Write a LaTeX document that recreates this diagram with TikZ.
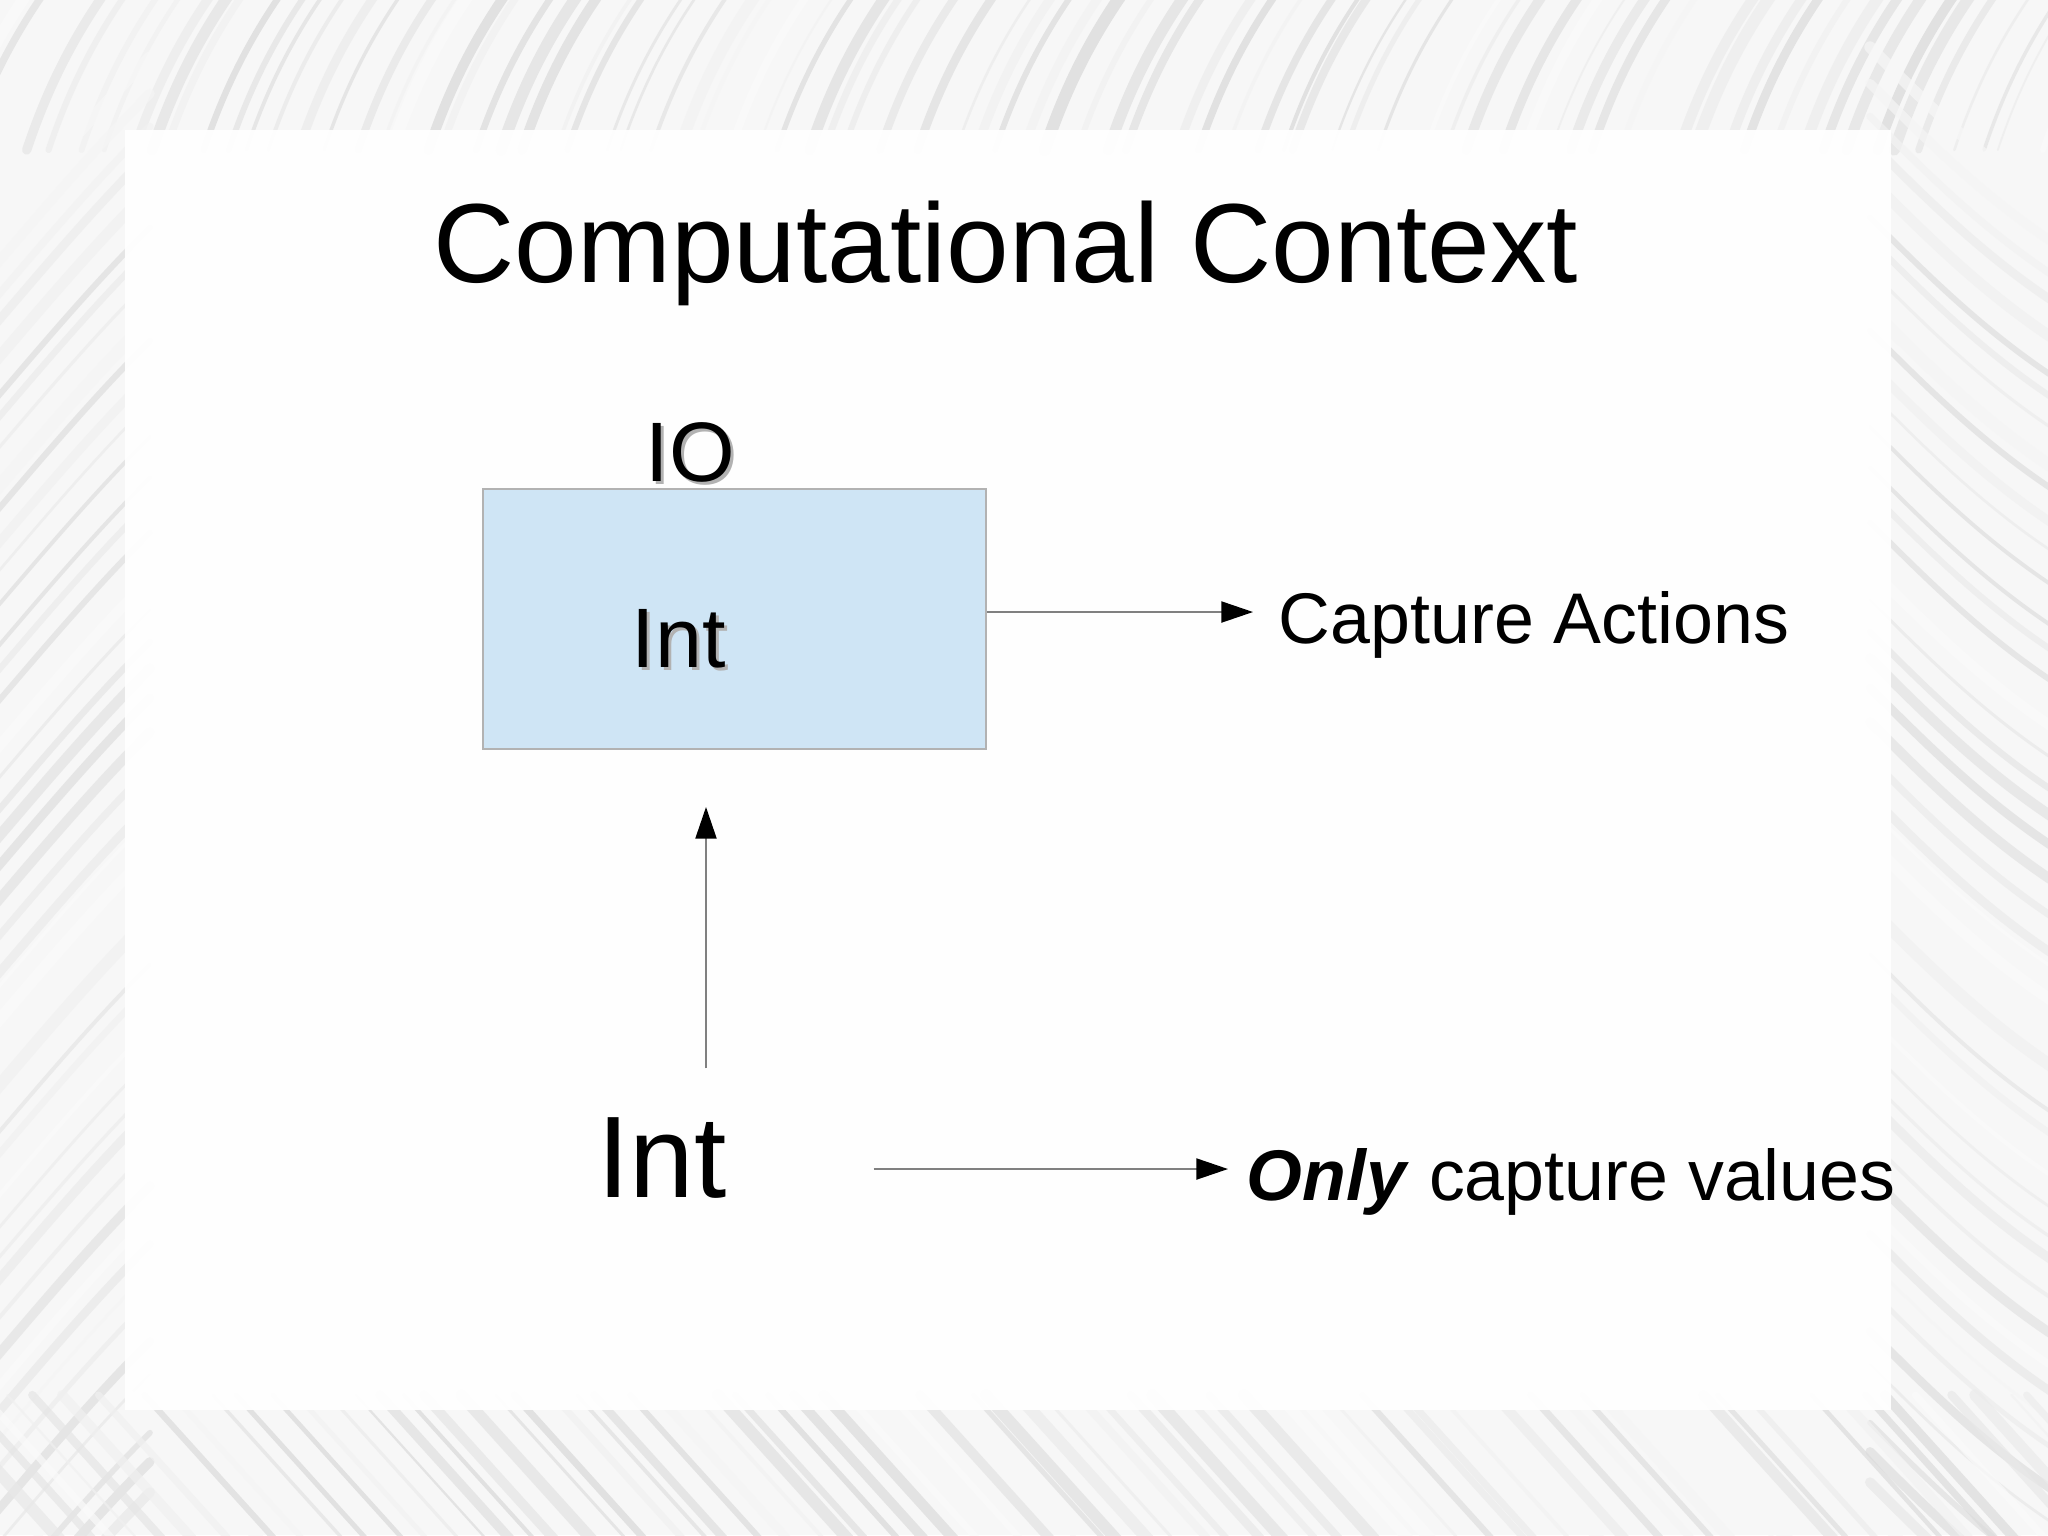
\documentclass[tikz,border=0pt]{standalone}
\usepackage{fontspec}
\setmainfont{Liberation Sans}
\usetikzlibrary{arrows.meta, positioning, calc}
\definecolor{boxblue}{HTML}{CFE5F5}
\tikzset{feather/.style = {line cap=round, opacity=0.7}}
\tikzset{slide/.style = {
  % Panel:
  fill=white, opacity=0.94
  }}
\tikzset{block/.style = {
  % Rectangle:
  rectangle,
  draw=black!30, fill=boxblue,
  line width=0.5pt,
  minimum width=5.03cm, minimum height=2.6cm,
  inner sep=0
  }}
\tikzset{txt/.style = {
  % Text
  inner sep=0, anchor=base west,
  font=\fontsize{20.4}{25}\selectfont
  }}
\tikzset{arrow/.style = {
  -{Triangle[length=9pt, width=6pt, color=black]},
  draw=black!50,
  line width = 0.5pt
  }}
\newcommand{\shadowed}[1]{\leavevmode\rlap{\hspace{0.9pt}\raisebox{-0.9pt}{\textcolor{black!30}{#1}}}#1}

\begin{document}
\begin{tikzpicture}[x=0.01cm, y=-0.01cm]
% PAGE
\useasboundingbox (0,0) rectangle (2048,1535);
\clip (0,0) rectangle (2048,1535);
\fill [black!3] (0,0) rectangle (2048,1535);
\pgfmathsetseed{5}

% feathers
\foreach \i in {0,...,85}{
  \pgfmathsetmacro{\xa}{\i*25-60+rnd*20}
  \pgfmathsetmacro{\lw}{0.5+rnd*3}
  \pgfmathtruncatemacro{\sh}{2+rnd*14}
  \draw [feather, line width=\lw pt, draw=black!\sh] (\xa,150) .. controls (\xa+20,90) and (\xa+45,40) .. (\xa+80,-10);
}
\foreach \i in {0,...,45}{
  \pgfmathsetmacro{\ya}{\i*32+100+rnd*20}
  \pgfmathsetmacro{\lw}{0.5+rnd*3}
  \pgfmathtruncatemacro{\sh}{2+rnd*12}
  \draw [feather, line width=\lw pt, draw=black!\sh] (-20,\ya+140) .. controls (40,\ya+70) and (90,\ya+10) .. (150,\ya-50);
  \draw [feather, line width=\lw pt, draw=black!\sh] (1870,\ya-60) .. controls (1930,\ya) and (1990,\ya+60) .. (2070,\ya+110);
}
\foreach \i in {0,...,75}{
  \pgfmathsetmacro{\xa}{\i*28-80+rnd*20}
  \pgfmathsetmacro{\lw}{0.5+rnd*3}
  \pgfmathtruncatemacro{\sh}{2+rnd*14}
  \draw [feather, line width=\lw pt, draw=black!\sh] (\xa,1395) -- (\xa+140,1550);
}
\fill [slide] (125,130) rectangle (1891,1410);

% NODES
\node (title) [txt, anchor=base, font=\fontsize{32}{38}\selectfont] at (1006,282) {Computational Context};

\node (box) [block] at (734.5,619) {};
\node (io) [txt, font=\fontsize{24}{29}\selectfont] at (645,481) {\shadowed{IO}};
\node (boxint) [txt, font=\fontsize{24}{29}\selectfont] at (631,667) {\shadowed{Int}};
\node (actions) [txt] at (1278,643) {Capture Actions};

\node (int) [txt, font=\fontsize{33}{40}\selectfont] at (597,1197) {Int};
\node (values) [txt] at (1246,1200) {\textbf{\textit{Only}} capture values};

% arrows
\coordinate (acty) at (0,612);
\coordinate (upx) at (706,0);
\coordinate (valy) at (0,1169);
\draw [arrow, shorten >=0.25cm] (box.east |- acty) -- (actions.west |- acty);
\draw [arrow, shorten <=0.48cm, shorten >=0.57cm] (upx |- int.north) -- (upx |- box.south);
\draw [arrow, shorten <=1.46cm, shorten >=0.18cm] (int.east |- valy) -- (values.west |- valy);
\end{tikzpicture}
\end{document}
